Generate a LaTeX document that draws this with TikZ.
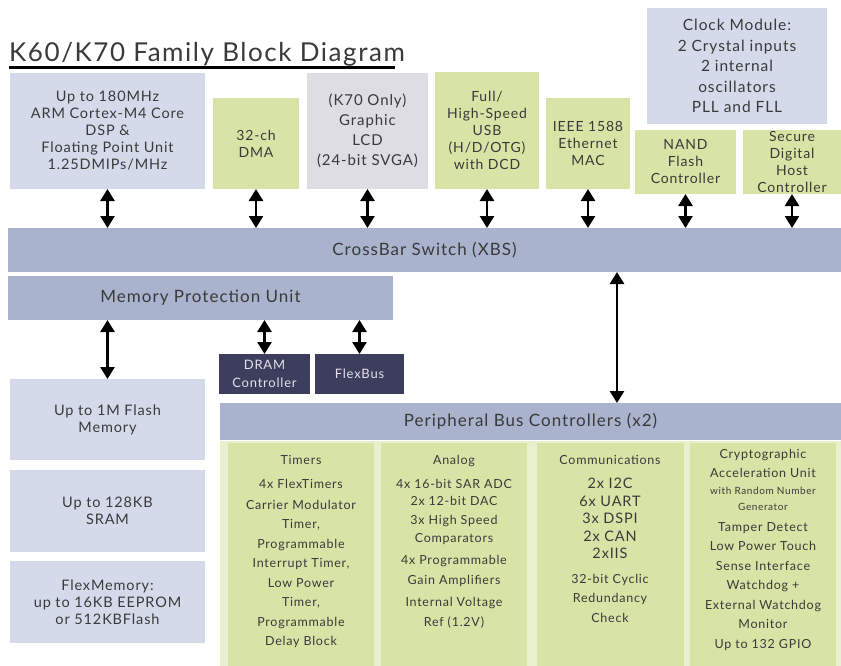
\documentclass[tikz,border=0pt]{standalone}
\usepackage{fontspec}
\setmainfont{Lato}[LetterSpace=6]
\usetikzlibrary{arrows.meta,positioning}
\definecolor{lblue}{HTML}{D5DAEA}
\definecolor{mblue}{HTML}{A9B3CE}
\definecolor{lgreen}{HTML}{D8E3A6}
\definecolor{pgreen}{HTML}{E9F0CE}
\definecolor{lgrey}{HTML}{DDDDE3}
\definecolor{dnavy}{HTML}{3D3D5E}
\definecolor{txt}{HTML}{3A3A3A}
\definecolor{ltxt}{HTML}{E2E2EA}
\newcommand\blk[7]{\node[#6, minimum width={(#4-#2)*1pt}, minimum height={(#5-#3)*1pt}] (#1) at ({(#2+#4)/2},{(#3+#5)/2}) {#7};}
\tikzset{
  base/.style={inner sep=0pt, outer sep=0pt, align=center, text=txt},
  bluebox/.style={base, fill=lblue, font=\fontsize{14.5}{17}\selectfont},
  clockbox/.style={base, fill=lblue, font=\fontsize{15.5}{20.5}\selectfont},
  barbox/.style={base, fill=mblue, font=\fontsize{17}{20}\selectfont},
  greenbox/.style={base, fill=lgreen, font=\fontsize{14}{17}\selectfont},
  greybox/.style={base, fill=lgrey, font=\fontsize{15}{20}\selectfont},
  darkbox/.style={base, fill=dnavy, text=ltxt, font=\fontsize{13}{18}\selectfont},
  panel/.style={base, fill=pgreen},
  colbox/.style={base, fill=lgreen},
  coltext/.style={inner sep=0pt, align=center, text=txt, anchor=north, font=\fontsize{12.5}{19.5}\selectfont},
  dbl/.style={{Triangle[width=14pt,length=12pt]}-{Triangle[width=14pt,length=12pt]}, line width=2.6pt, black}
}
\begin{document}
\begin{tikzpicture}[x=1pt,y=-1pt]
\useasboundingbox (0,0) rectangle (841,666);
\fill[white] (0,0) rectangle (841,666);
% title
\node[inner sep=0pt, anchor=base west, text=txt, font=\fontsize{26}{28}\selectfont] (title) at (9,62) {K60/K70 Family Block Diagram};
\draw[line width=3pt, black] (title.base west |- 0,68) -- (395,68) coordinate (tend);
% top row
\blk{cpu}{10}{73}{205}{189}{bluebox}{Up to 180MHz\\ARM Cortex-M4 Core\\DSP \&\\Floating Point Unit\\1.25DMIPs/MHz}
\blk{dma}{213}{98}{299}{189}{greenbox}{32-ch\\DMA}
\blk{lcd}{307}{73}{428}{189}{greybox}{(K70 Only)\\Graphic\\LCD\\(24-bit SVGA)}
\blk{usb}{435}{72}{539}{189}{greenbox}{Full/\\High-Speed\\USB\\(H/D/OTG)\\with DCD}
\blk{eth}{546}{98}{630}{189}{greenbox}{IEEE 1588\\Ethernet\\MAC}
\blk{clk}{647}{8}{827}{124}{clockbox}{Clock Module:\\2 Crystal inputs\\2 internal\\oscillators\\PLL and FLL}
\blk{nand}{635}{130}{736}{194}{greenbox}{NAND\\Flash\\Controller}
\blk{sd}{743}{130}{841}{194}{greenbox}{Secure\\Digital\\Host\\Controller}
% bars
\blk{xbar}{8}{228}{841}{272}{barbox}{CrossBar Switch (XBS)}
\blk{mpu}{8}{276}{393}{320}{barbox}{Memory Protection Unit}
\blk{dram}{219}{354}{310}{394}{darkbox}{DRAM\\Controller}
\blk{fbus}{315}{354}{404}{394}{darkbox}{FlexBus}
% memories
\blk{flash}{10}{379}{205}{460}{bluebox}{Up to 1M Flash\\Memory}
\blk{sram}{10}{470}{205}{552}{bluebox}{Up to 128KB\\SRAM}
\blk{fmem}{10}{561}{205}{643}{bluebox}{FlexMemory:\\up to 16KB EEPROM\\or 512KBFlash}
% peripherals
\blk{pbc}{220}{403}{841}{440}{barbox}{Peripheral Bus Controllers (x2)}
\blk{panelbg}{220}{441}{841}{666}{panel}{}
\blk{ctim}{228}{443}{374}{666}{colbox}{}
\blk{cana}{381}{443}{527}{666}{colbox}{}
\blk{ccom}{537}{443}{684}{666}{colbox}{}
\blk{ccry}{690}{443}{836}{666}{colbox}{}
\node[coltext] (ttim) at (301,455) {Timers\\[5pt]4x FlexTimers\\[1pt]Carrier Modulator\\Timer,\\Programmable\\Interrupt Timer,\\Low Power\\Timer,\\Programmable\\Delay Block};
\node[coltext] (tana) at (454,455) {Analog\\[5pt]4x 16-bit SAR ADC\\[-3pt]2x 12-bit DAC\\3x High Speed\\[-2pt]Comparators\\[3pt]4x Programmable\\Gain Amplifiers\\[3pt]Internal Voltage\\Ref (1.2V)};
\node[coltext] (tcom) at (610,455) {Communications\\[5pt]{\fontsize{14.5}{17}\selectfont 2x I2C}\\[-2pt]{\fontsize{14.5}{17}\selectfont 6x UART}\\[-2pt]{\fontsize{14.5}{17}\selectfont 3x DSPI}\\[-2pt]{\fontsize{14.5}{17}\selectfont 2x CAN}\\[-2pt]{\fontsize{14.5}{17}\selectfont 2xIIS}\\[5pt]32-bit Cyclic\\Redundancy\\Check};
\node[coltext] (tcry) at (763,449) {Cryptographic\\Acceleration Unit\\[-3pt]{\fontsize{10}{14}\selectfont with Random Number}\\[-3pt]{\fontsize{10}{14}\selectfont Generator}\\[1pt]Tamper Detect\\Low Power Touch\\Sense Interface\\Watchdog +\\External Watchdog\\Monitor\\Up to 132 GPIO};
% arrows
\foreach \n in {cpu,dma,lcd,usb,eth,nand,sd}{
  \draw[dbl] (\n.south) -- (\n.south |- xbar.north);
}
\draw[dbl] (flash.north |- mpu.south) -- (flash.north);
\draw[dbl] (dram.north |- mpu.south) -- (dram.north);
\draw[dbl] (fbus.north |- mpu.south) -- (fbus.north);
\coordinate (pbcx) at ([xshift=86.5pt]pbc.north);
\draw[dbl] (pbcx |- xbar.south) -- (pbcx);
\end{tikzpicture}
\end{document}
